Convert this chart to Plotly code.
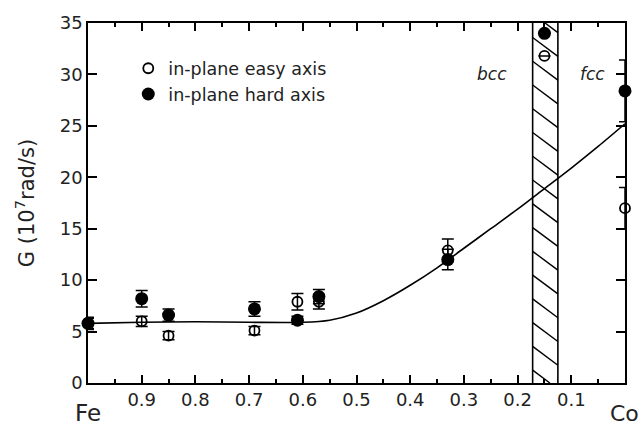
import plotly.graph_objects as go

# Fe(1-x)Co(x) composition axis: Fe fraction, 1 = pure Fe, 0 = pure Co
x_easy = [1.0, 0.90, 0.85, 0.69, 0.61, 0.57, 0.33, 0.15, 0.0]
g_easy = [5.8, 6.0, 4.6, 5.1, 7.9, 7.9, 12.9, 31.8, 17.0]
err_easy = [0.5, 0.5, 0.4, 0.4, 0.8, 0.7, 1.1, None, 2.0]

x_hard = [1.0, 0.90, 0.85, 0.69, 0.61, 0.57, 0.33, 0.15, 0.0]
g_hard = [5.8, 8.2, 6.6, 7.2, 6.1, 8.4, 12.0, 34.0, 28.4]
err_hard = [0.6, 0.8, 0.6, 0.7, 0.4, 0.7, 1.0, None, 3.0]

# guide-to-the-eye curve
x_curve = [1.0, 0.9, 0.8, 0.7, 0.6, 0.55, 0.5, 0.45, 0.4, 0.35, 0.3, 0.25, 0.2, 0.15, 0.1, 0.05, 0.0]
g_curve = [5.8, 5.9, 5.95, 5.9, 5.9, 6.1, 6.8, 8.0, 9.5, 11.2, 13.1, 15.0, 16.9, 18.9, 20.9, 23.0, 25.2]

# bcc/fcc two-phase band
band_left, band_right = 0.172, 0.125

x_ticks = [0.9, 0.8, 0.7, 0.6, 0.5, 0.4, 0.3, 0.2, 0.1]
x_minor = [0.95, 0.85, 0.75, 0.65, 0.55, 0.45, 0.35, 0.25, 0.15, 0.05]
y_ticks = [0, 5, 10, 15, 20, 25, 30, 35]

Y_MAX = 35
FONT = "DejaVu Sans"

fig = go.Figure()

fig.add_trace(go.Scatter(
    x=x_curve, y=g_curve, mode="lines", line=dict(color="black", width=1.6, shape="spline", smoothing=0.8),
    showlegend=False, hoverinfo="skip", cliponaxis=False,
))

fig.add_trace(go.Scatter(
    x=x_easy, y=g_easy, mode="markers", name="in-plane easy axis",
    marker=dict(symbol="circle-open", size=10, color="black", line=dict(width=1.8)),
    error_y=dict(type="data", array=err_easy, visible=True, color="black", thickness=1.5, width=6),
    cliponaxis=False,
))

fig.add_trace(go.Scatter(
    x=x_hard, y=g_hard, mode="markers", name="in-plane hard axis",
    marker=dict(symbol="circle", size=13, color="black"),
    error_y=dict(type="data", array=err_hard, visible=True, color="black", thickness=1.5, width=6),
    cliponaxis=False,
))

# hatched band: border lines and diagonal hatching
shapes = []
for xb in (band_left, band_right):
    shapes.append(dict(type="line", xref="x", yref="y", x0=xb, x1=xb, y0=0, y1=Y_MAX,
                       line=dict(color="black", width=1.6)))
drop, spacing, start = 1.83, 2.31, 1.25
k = -2
while True:
    ya = start + k * spacing          # y at left edge
    yb = ya - drop                    # y at right edge
    if yb > Y_MAX:
        break
    k += 1
    t0, t1 = 0.0, 1.0
    if ya > Y_MAX:
        t0 = (ya - Y_MAX) / drop
    if yb < 0:
        t1 = ya / drop
    if t0 >= t1:
        continue
    xs = [band_left + (band_right - band_left) * t for t in (t0, t1)]
    ys = [ya - drop * t for t in (t0, t1)]
    shapes.append(dict(type="line", xref="x", yref="y", x0=xs[0], y0=ys[0], x1=xs[1], y1=ys[1],
                       line=dict(color="black", width=1.4)))

fig.update_layout(
    width=643, height=425,
    margin=dict(l=88, r=18, t=20, b=42),
    paper_bgcolor="white", plot_bgcolor="white",
    font=dict(family=FONT, size=16, color="#222"),
    shapes=shapes,
    showlegend=True,
    legend=dict(x=0.075, y=0.924, xanchor="left", yanchor="top", bgcolor="rgba(0,0,0,0)",
                font=dict(size=17.5), tracegroupgap=0, itemwidth=30),
    annotations=[
        dict(x=-0.117, y=0.5, xref="paper", yref="paper", text="G (10<sup>7</sup>rad/s)",
             textangle=-90, showarrow=False, xanchor="center", yanchor="middle", font=dict(size=21)),
        dict(x=0.248, y=30, xref="x", yref="y", text="<i>bcc</i>", showarrow=False, font=dict(size=17)),
        dict(x=0.06, y=30, xref="x", yref="y", text="<i>fcc</i>", showarrow=False, font=dict(size=17)),
        dict(x=1.0, y=0, xref="x", yref="paper", text="Fe", showarrow=False, yanchor="middle",
             yshift=-30, font=dict(size=23)),
        dict(x=0.0, y=0, xref="x", yref="paper", text="Co", showarrow=False, yanchor="middle",
             yshift=-30, xshift=-1, font=dict(size=22)),
    ],
)

fig.update_xaxes(
    range=[1.0, 0.0], tickmode="array", tickvals=x_ticks, ticktext=[f"{v:.1f}" for v in x_ticks],
    ticks="inside", ticklen=8, tickwidth=1.5, tickcolor="black",
    minor=dict(tickmode="array", tickvals=x_minor, ticks="inside", ticklen=4, tickwidth=1.5, tickcolor="black"),
    showline=True, linecolor="black", linewidth=1.6, mirror="allticks",
    showgrid=False, zeroline=False, tickfont=dict(size=18),
)
fig.update_yaxes(
    range=[0, Y_MAX], tickmode="array", tickvals=y_ticks,
    ticks="inside", ticklen=9, tickwidth=1.5, tickcolor="black",
    showline=True, linecolor="black", linewidth=1.6, mirror="allticks",
    showgrid=False, zeroline=False, tickfont=dict(size=18),
)

fig.write_html("out.html")
